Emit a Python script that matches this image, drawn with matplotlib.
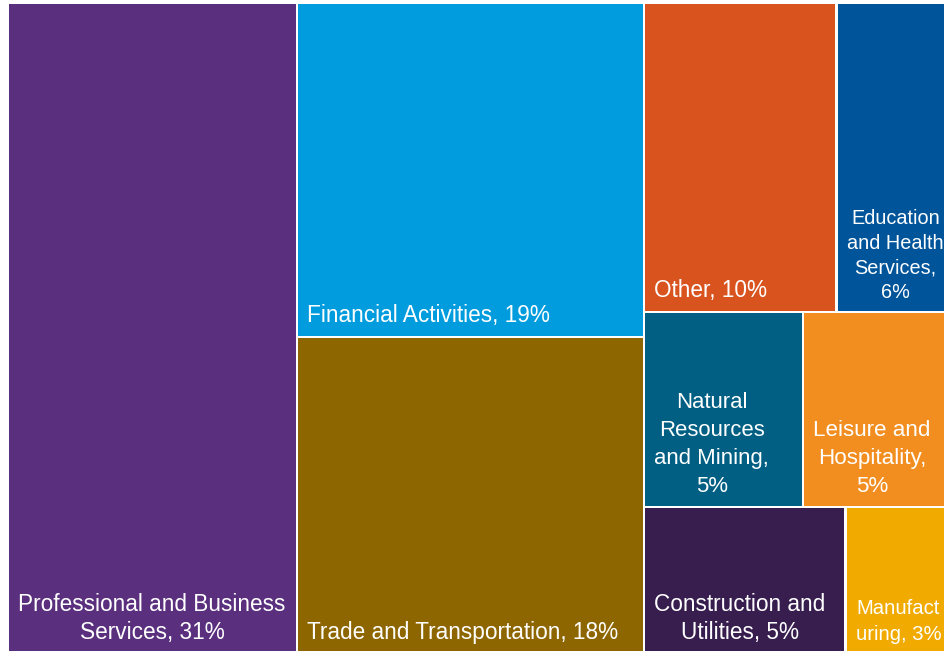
import matplotlib.pyplot as plt
from matplotlib.patches import Rectangle

# sector shares (area estimates) and the shown labels
sectors = ["Professional and Business Services", "Financial Activities",
           "Trade and Transportation", "Other", "Education and Health Services",
           "Natural Resources and Mining", "Leisure and Hospitality",
           "Construction and Utilities", "Manufacturing"]
shares = [30.52, 18.8, 17.84, 9.67, 5.92, 5.03, 4.81, 4.80, 2.62]
labels = ["Professional and Business\nServices, 31%",
          "Financial Activities, 19%",
          "Trade and Transportation, 18%",
          "Other, 10%",
          "Education\nand Health\nServices,\n6%",
          "Natural\nResources\nand Mining,\n5%",
          "Leisure and\nHospitality,\n5%",
          "Construction and\nUtilities, 5%",
          "Manufact\nuring, 3%"]
colors = ["#5A2F7E", "#009CDE", "#8E6600", "#D9531E", "#00549A",
          "#005F83", "#F28E20", "#371E4F", "#F1AB00"]
font_sizes = [16.3, 16.3, 16.3, 16.3, 14.3, 15.9, 16.1, 16.3, 14.6]
line_gaps = [1.26, 1.2, 1.2, 1.2, 1.37, 1.44, 1.44, 1.26, 1.45]

# Excel arrangement: columns -> rows -> sector index
layout = [[[0]], [[1], [2]], [[3, 4], [5, 6], [7, 8]]]

plt.rcParams['font.family'] = ['Liberation Sans', 'DejaVu Sans']

fig = plt.figure(figsize=(9.45, 6.51), dpi=100)
ax = fig.add_axes([0, 0, 1, 1])
ax.set_xlim(0, 945)
ax.set_ylim(651, 0)
ax.axis('off')

# plot area in pixels (chart runs a bit past the right edge of the image)
x0, y0, W, H = 8, 3, 947, 651
gap = 1.4
total = sum(shares)

x = x0
for col in layout:
    col_sum = sum(shares[i] for row in col for i in row)
    cw = W * col_sum / total
    y = y0
    for row in col:
        row_sum = sum(shares[i] for i in row)
        rh = H * row_sum / col_sum
        cx = x
        for i in row:
            w = cw * shares[i] / row_sum
            ax.add_patch(Rectangle((cx + gap, y + gap), w - 2 * gap, rh - 2 * gap,
                                   facecolor=colors[i], edgecolor='none'))
            ax.text(cx + gap + 9, y + rh - gap - 8.5, labels[i], color='white',
                    fontsize=font_sizes[i], ha='left', va='bottom',
                    multialignment='center', linespacing=line_gaps[i])
            cx += w
        y += rh
    x += cw

fig.savefig('out.png', dpi=100, facecolor='white')
